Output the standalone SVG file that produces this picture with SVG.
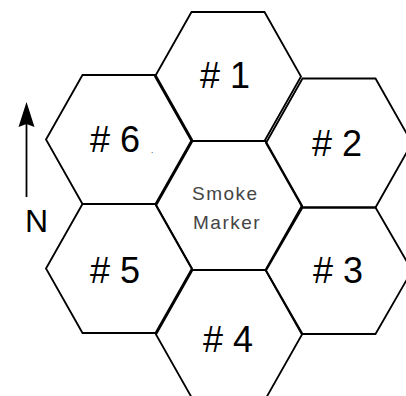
<svg xmlns="http://www.w3.org/2000/svg" width="406" height="396" viewBox="0 0 406 396">
<style>
.hex{fill:none;stroke:#000;stroke-width:1.8;stroke-linejoin:miter}
.lbl{font-family:"Liberation Sans",Arial,sans-serif;font-size:36px;fill:#000;letter-spacing:10px}
.sm{font-family:"Liberation Sans",Arial,sans-serif;font-size:19px;fill:#444;letter-spacing:1.5px}
</style>
<rect width="406" height="396" fill="#fff"/>
<g id="hex1"><polygon class="hex" points="155,76.5 191.5,12 264.5,12 301,76.5 264.5,141 191.5,141"/><text class="lbl" x="200" y="88">#1</text></g>
<g id="hex6"><polygon class="hex" points="46,139.5 82.5,75 155.5,75 192,139.5 155.5,204 82.5,204"/><text class="lbl" x="90" y="152">#6</text><text x="151" y="153" font-family="Liberation Sans,sans-serif" font-size="8" fill="#000">.</text></g>
<g id="hex2"><polygon class="hex" points="266,143 302.5,78.5 375.5,78.5 412,143 375.5,207.5 302.5,207.5"/><text class="lbl" x="312" y="156">#2</text></g>
<g id="center"><polygon class="hex" points="156,205.5 192.5,141 265.5,141 302,205.5 265.5,270 192.5,270"/><text class="sm" x="192" y="200">Smoke</text><text class="sm" x="193" y="229">Marker</text></g>
<g id="hex5"><polygon class="hex" points="46,268.5 82.5,204 155.5,204 192,268.5 155.5,333 82.5,333"/><text class="lbl" x="90" y="283">#5</text></g>
<g id="hex3"><polygon class="hex" points="266,270.5 302.5,207.5 375.5,207.5 412,270.5 375.5,334 302.5,334"/><text class="lbl" x="313" y="283">#3</text></g>
<g id="hex4"><polygon class="hex" points="156,334.5 192.5,270 265.5,270 302,334.5 265.5,399 192.5,399"/><text class="lbl" x="203" y="352">#4</text></g>
<g id="connectors">
<line x1="26.5" y1="197" x2="26.5" y2="120" stroke="#000" stroke-width="1.8"/>
<polygon points="26.5,102 18.5,127 26.5,124 34.5,127" fill="#000"/>
</g>
<g id="north"><text x="25" y="232" font-family="Liberation Sans,Arial,sans-serif" font-size="32" fill="#000">N</text></g>
</svg>
